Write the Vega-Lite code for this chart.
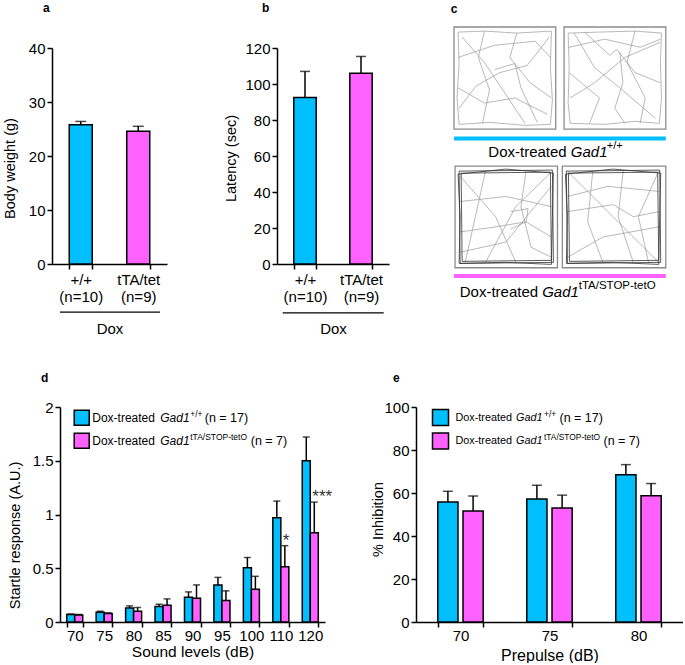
{
  "$schema": "https://vega.github.io/schema/vega-lite/v6.json",
  "background": "white",
  "padding": {"left": 2, "top": 2, "right": 0, "bottom": 0},
  "config": {
    "view": {"stroke": null},
    "font": "Liberation Sans",
    "text": {"font": "Liberation Sans", "color": "black"},
    "axis": {"grid": false, "domainColor": "black", "domainWidth": 1.5, "tickColor": "black", "tickWidth": 1.5, "tickSize": 5, "labelColor": "black", "labelFont": "Liberation Sans", "labelFontSize": 15, "labelPadding": 2, "labelOverlap": false, "titleFont": "Liberation Sans", "titleFontSize": 14.5, "titleFontWeight": "normal", "titleColor": "black"},
    "title": {"fontSize": 12, "fontWeight": "bold", "anchor": "start", "frame": "group", "font": "Liberation Sans", "color": "black"}
  },
  "datasets": {
    "weight": [
      {"g": "+/+|(n=10)", "grp": "wt", "mean": 25.8, "err": 26.4},
      {"g": "tTA/tet|(n=9)", "grp": "mut", "mean": 24.6, "err": 25.5}
    ],
    "latency": [
      {"g": "+/+|(n=10)", "grp": "wt", "mean": 92.5, "err": 107},
      {"g": "tTA/tet|(n=9)", "grp": "mut", "mean": 106, "err": 115.3}
    ],
    "startle": [
      {"sound": "70", "grp": "wt", "mean": 0.07, "err": 0.075, "sig": ""},
      {"sound": "70", "grp": "mut", "mean": 0.065, "err": 0.07, "sig": ""},
      {"sound": "75", "grp": "wt", "mean": 0.09, "err": 0.1, "sig": ""},
      {"sound": "75", "grp": "mut", "mean": 0.08, "err": 0.085, "sig": ""},
      {"sound": "80", "grp": "wt", "mean": 0.13, "err": 0.15, "sig": ""},
      {"sound": "80", "grp": "mut", "mean": 0.1, "err": 0.135, "sig": ""},
      {"sound": "85", "grp": "wt", "mean": 0.145, "err": 0.165, "sig": ""},
      {"sound": "85", "grp": "mut", "mean": 0.155, "err": 0.215, "sig": ""},
      {"sound": "90", "grp": "wt", "mean": 0.23, "err": 0.28, "sig": ""},
      {"sound": "90", "grp": "mut", "mean": 0.22, "err": 0.345, "sig": ""},
      {"sound": "95", "grp": "wt", "mean": 0.345, "err": 0.415, "sig": ""},
      {"sound": "95", "grp": "mut", "mean": 0.2, "err": 0.29, "sig": ""},
      {"sound": "100", "grp": "wt", "mean": 0.505, "err": 0.6, "sig": ""},
      {"sound": "100", "grp": "mut", "mean": 0.305, "err": 0.425, "sig": ""},
      {"sound": "110", "grp": "wt", "mean": 0.97, "err": 1.125, "sig": ""},
      {"sound": "110", "grp": "mut", "mean": 0.515, "err": 0.71, "sig": "*"},
      {"sound": "120", "grp": "wt", "mean": 1.5, "err": 1.72, "sig": ""},
      {"sound": "120", "grp": "mut", "mean": 0.83, "err": 1.115, "sig": "***"}
    ],
    "ppi": [
      {"pre": "70", "grp": "wt", "mean": 55.8, "err": 60.8},
      {"pre": "70", "grp": "mut", "mean": 51.6, "err": 58.6},
      {"pre": "75", "grp": "wt", "mean": 57.2, "err": 63.6},
      {"pre": "75", "grp": "mut", "mean": 53, "err": 59},
      {"pre": "80", "grp": "wt", "mean": 68.5, "err": 73.2},
      {"pre": "80", "grp": "mut", "mean": 58.7, "err": 64.4}
    ],
    "boxes": [
      {"box": "TL", "x": 0, "x2": 1.003, "y": 0, "y2": 1.006},
      {"box": "TR", "x": 1.085, "x2": 2.088, "y": 0, "y2": 1.006},
      {"box": "BL", "x": 0.01, "x2": 1.02, "y": 1.371, "y2": 2.374},
      {"box": "BR", "x": 1.068, "x2": 2.088, "y": 1.371, "y2": 2.374}
    ],
    "traj": [
      {"id": "TL1", "o": 1, "x": 0.04, "y": 0.05}, {"id": "TL1", "o": 2, "x": 0.3, "y": 0.04}, {"id": "TL1", "o": 3, "x": 0.62, "y": 0.06}, {"id": "TL1", "o": 4, "x": 0.96, "y": 0.04},
      {"id": "TL2", "o": 1, "x": 0.04, "y": 0.05}, {"id": "TL2", "o": 2, "x": 0.05, "y": 0.35}, {"id": "TL2", "o": 3, "x": 0.03, "y": 0.7}, {"id": "TL2", "o": 4, "x": 0.05, "y": 0.96},
      {"id": "TL3", "o": 1, "x": 0.96, "y": 0.04}, {"id": "TL3", "o": 2, "x": 0.95, "y": 0.4}, {"id": "TL3", "o": 3, "x": 0.97, "y": 0.72}, {"id": "TL3", "o": 4, "x": 0.95, "y": 0.96},
      {"id": "TL4", "o": 1, "x": 0.05, "y": 0.96}, {"id": "TL4", "o": 2, "x": 0.35, "y": 0.94}, {"id": "TL4", "o": 3, "x": 0.7, "y": 0.97}, {"id": "TL4", "o": 4, "x": 0.95, "y": 0.96},
      {"id": "TL5", "o": 1, "x": 0.08, "y": 0.1}, {"id": "TL5", "o": 2, "x": 0.3, "y": 0.35}, {"id": "TL5", "o": 3, "x": 0.48, "y": 0.62}, {"id": "TL5", "o": 4, "x": 0.7, "y": 0.95},
      {"id": "TL6", "o": 1, "x": 0.94, "y": 0.1}, {"id": "TL6", "o": 2, "x": 0.72, "y": 0.38}, {"id": "TL6", "o": 3, "x": 0.45, "y": 0.45}, {"id": "TL6", "o": 4, "x": 0.22, "y": 0.58}, {"id": "TL6", "o": 5, "x": 0.05, "y": 0.8},
      {"id": "TL7", "o": 1, "x": 0.3, "y": 0.04}, {"id": "TL7", "o": 2, "x": 0.24, "y": 0.3}, {"id": "TL7", "o": 3, "x": 0.35, "y": 0.62}, {"id": "TL7", "o": 4, "x": 0.28, "y": 0.95},
      {"id": "TL8", "o": 1, "x": 0.62, "y": 0.06}, {"id": "TL8", "o": 2, "x": 0.55, "y": 0.3}, {"id": "TL8", "o": 3, "x": 0.75, "y": 0.55}, {"id": "TL8", "o": 4, "x": 0.96, "y": 0.7},
      {"id": "TL9", "o": 1, "x": 0.04, "y": 0.3}, {"id": "TL9", "o": 2, "x": 0.4, "y": 0.18}, {"id": "TL9", "o": 3, "x": 0.8, "y": 0.14}, {"id": "TL9", "o": 4, "x": 0.95, "y": 0.3},
      {"id": "TL10", "o": 1, "x": 0.04, "y": 0.6}, {"id": "TL10", "o": 2, "x": 0.3, "y": 0.75}, {"id": "TL10", "o": 3, "x": 0.6, "y": 0.7}, {"id": "TL10", "o": 4, "x": 0.92, "y": 0.86},
      {"id": "TL11", "o": 1, "x": 0.4, "y": 0.42}, {"id": "TL11", "o": 2, "x": 0.6, "y": 0.36}, {"id": "TL11", "o": 3, "x": 0.66, "y": 0.6}, {"id": "TL11", "o": 4, "x": 0.82, "y": 0.94},
      {"id": "TR1", "o": 1, "x": 1.125, "y": 0.06}, {"id": "TR1", "o": 2, "x": 1.435, "y": 0.05}, {"id": "TR1", "o": 3, "x": 1.785, "y": 0.04}, {"id": "TR1", "o": 4, "x": 2.045, "y": 0.06},
      {"id": "TR2", "o": 1, "x": 1.125, "y": 0.06}, {"id": "TR2", "o": 2, "x": 1.135, "y": 0.4}, {"id": "TR2", "o": 3, "x": 1.125, "y": 0.75}, {"id": "TR2", "o": 4, "x": 1.145, "y": 0.95},
      {"id": "TR3", "o": 1, "x": 2.045, "y": 0.06}, {"id": "TR3", "o": 2, "x": 2.035, "y": 0.35}, {"id": "TR3", "o": 3, "x": 2.045, "y": 0.7}, {"id": "TR3", "o": 4, "x": 2.025, "y": 0.95},
      {"id": "TR4", "o": 1, "x": 1.145, "y": 0.95}, {"id": "TR4", "o": 2, "x": 1.485, "y": 0.96}, {"id": "TR4", "o": 3, "x": 1.785, "y": 0.93}, {"id": "TR4", "o": 4, "x": 2.025, "y": 0.95},
      {"id": "TR5", "o": 1, "x": 1.185, "y": 0.06}, {"id": "TR5", "o": 2, "x": 1.385, "y": 0.4}, {"id": "TR5", "o": 3, "x": 1.635, "y": 0.6}, {"id": "TR5", "o": 4, "x": 1.985, "y": 0.9},
      {"id": "TR6", "o": 1, "x": 1.635, "y": 0.25}, {"id": "TR6", "o": 2, "x": 1.665, "y": 0.55}, {"id": "TR6", "o": 3, "x": 1.585, "y": 0.8}, {"id": "TR6", "o": 4, "x": 1.685, "y": 0.95},
      {"id": "TR7", "o": 1, "x": 2.035, "y": 0.15}, {"id": "TR7", "o": 2, "x": 1.685, "y": 0.3}, {"id": "TR7", "o": 3, "x": 1.385, "y": 0.55}, {"id": "TR7", "o": 4, "x": 1.145, "y": 0.7},
      {"id": "TR8", "o": 1, "x": 1.285, "y": 0.05}, {"id": "TR8", "o": 2, "x": 1.535, "y": 0.28}, {"id": "TR8", "o": 3, "x": 1.605, "y": 0.22}, {"id": "TR8", "o": 4, "x": 1.785, "y": 0.45}, {"id": "TR8", "o": 5, "x": 2.035, "y": 0.55},
      {"id": "TR9", "o": 1, "x": 1.135, "y": 0.45}, {"id": "TR9", "o": 2, "x": 1.435, "y": 0.7}, {"id": "TR9", "o": 3, "x": 1.335, "y": 0.95},
      {"id": "TR10", "o": 1, "x": 1.785, "y": 0.04}, {"id": "TR10", "o": 2, "x": 1.705, "y": 0.35}, {"id": "TR10", "o": 3, "x": 1.885, "y": 0.7}, {"id": "TR10", "o": 4, "x": 1.835, "y": 0.95},
      {"id": "TR11", "o": 1, "x": 1.135, "y": 0.2}, {"id": "TR11", "o": 2, "x": 1.485, "y": 0.12}, {"id": "TR11", "o": 3, "x": 1.835, "y": 0.2}, {"id": "TR11", "o": 4, "x": 2.035, "y": 0.12},
      {"id": "BL1", "o": 1, "x": 0.06, "y": 1.471}, {"id": "BL1", "o": 2, "x": 0.41, "y": 1.871}, {"id": "BL1", "o": 3, "x": 0.61, "y": 2.321},
      {"id": "BL2", "o": 1, "x": 0.96, "y": 1.431}, {"id": "BL2", "o": 2, "x": 0.61, "y": 1.771}, {"id": "BL2", "o": 3, "x": 0.31, "y": 2.321},
      {"id": "BL3", "o": 1, "x": 0.06, "y": 1.721}, {"id": "BL3", "o": 2, "x": 0.51, "y": 1.671}, {"id": "BL3", "o": 3, "x": 0.96, "y": 1.771},
      {"id": "BL4", "o": 1, "x": 0.06, "y": 2.021}, {"id": "BL4", "o": 2, "x": 0.41, "y": 1.971}, {"id": "BL4", "o": 3, "x": 0.71, "y": 1.921}, {"id": "BL4", "o": 4, "x": 0.96, "y": 2.071},
      {"id": "BL5", "o": 1, "x": 0.31, "y": 1.421}, {"id": "BL5", "o": 2, "x": 0.21, "y": 1.871}, {"id": "BL5", "o": 3, "x": 0.11, "y": 2.321},
      {"id": "BL6", "o": 1, "x": 0.71, "y": 1.421}, {"id": "BL6", "o": 2, "x": 0.66, "y": 1.771}, {"id": "BL6", "o": 3, "x": 0.76, "y": 2.171}, {"id": "BL6", "o": 4, "x": 0.96, "y": 2.271},
      {"id": "BL7", "o": 1, "x": 0.06, "y": 2.221}, {"id": "BL7", "o": 2, "x": 0.51, "y": 2.121}, {"id": "BL7", "o": 3, "x": 0.96, "y": 1.571},
      {"id": "BL8", "o": 1, "x": 0.56, "y": 1.821}, {"id": "BL8", "o": 2, "x": 0.73, "y": 1.791}, {"id": "BL8", "o": 3, "x": 0.71, "y": 1.921}, {"id": "BL8", "o": 4, "x": 0.56, "y": 1.991},
      {"id": "BR1", "o": 1, "x": 1.118, "y": 1.421}, {"id": "BR1", "o": 2, "x": 1.568, "y": 1.871}, {"id": "BR1", "o": 3, "x": 2.018, "y": 2.321},
      {"id": "BR2", "o": 1, "x": 1.368, "y": 1.421}, {"id": "BR2", "o": 2, "x": 1.318, "y": 1.921}, {"id": "BR2", "o": 3, "x": 1.468, "y": 2.321},
      {"id": "BR3", "o": 1, "x": 1.118, "y": 1.671}, {"id": "BR3", "o": 2, "x": 1.518, "y": 1.571}, {"id": "BR3", "o": 3, "x": 2.018, "y": 1.621},
      {"id": "BR4", "o": 1, "x": 1.118, "y": 1.821}, {"id": "BR4", "o": 2, "x": 1.568, "y": 1.751}, {"id": "BR4", "o": 3, "x": 1.768, "y": 1.871}, {"id": "BR4", "o": 4, "x": 2.018, "y": 1.821},
      {"id": "BR5", "o": 1, "x": 1.668, "y": 1.421}, {"id": "BR5", "o": 2, "x": 1.618, "y": 1.871}, {"id": "BR5", "o": 3, "x": 1.768, "y": 2.321},
      {"id": "BR6", "o": 1, "x": 1.118, "y": 2.271}, {"id": "BR6", "o": 2, "x": 1.468, "y": 2.071}, {"id": "BR6", "o": 3, "x": 2.018, "y": 1.971},
      {"id": "BR7", "o": 1, "x": 2.018, "y": 1.421}, {"id": "BR7", "o": 2, "x": 1.818, "y": 1.871}, {"id": "BR7", "o": 3, "x": 1.918, "y": 2.321}
    ],
    "loops": [
      {"id": "BLL1", "o": 1, "x": 0.05, "y": 1.421}, {"id": "BLL1", "o": 2, "x": 0.97, "y": 1.411}, {"id": "BLL1", "o": 3, "x": 0.98, "y": 2.321}, {"id": "BLL1", "o": 4, "x": 0.06, "y": 2.331}, {"id": "BLL1", "o": 5, "x": 0.05, "y": 1.421},
      {"id": "BLL2", "o": 1, "x": 0.07, "y": 1.441}, {"id": "BLL2", "o": 2, "x": 0.95, "y": 1.431}, {"id": "BLL2", "o": 3, "x": 0.96, "y": 2.301}, {"id": "BLL2", "o": 4, "x": 0.08, "y": 2.311}, {"id": "BLL2", "o": 5, "x": 0.07, "y": 1.441},
      {"id": "BLL3", "o": 1, "x": 0.04, "y": 1.451}, {"id": "BLL3", "o": 2, "x": 0.51, "y": 1.401}, {"id": "BLL3", "o": 3, "x": 0.98, "y": 1.441}, {"id": "BLL3", "o": 4, "x": 0.97, "y": 1.871}, {"id": "BLL3", "o": 5, "x": 0.96, "y": 2.341}, {"id": "BLL3", "o": 6, "x": 0.51, "y": 2.321}, {"id": "BLL3", "o": 7, "x": 0.05, "y": 2.331}, {"id": "BLL3", "o": 8, "x": 0.06, "y": 1.871}, {"id": "BLL3", "o": 9, "x": 0.04, "y": 1.451},
      {"id": "BRL1", "o": 1, "x": 1.108, "y": 1.421}, {"id": "BRL1", "o": 2, "x": 2.028, "y": 1.411}, {"id": "BRL1", "o": 3, "x": 2.038, "y": 2.321}, {"id": "BRL1", "o": 4, "x": 1.118, "y": 2.331}, {"id": "BRL1", "o": 5, "x": 1.108, "y": 1.421},
      {"id": "BRL2", "o": 1, "x": 1.128, "y": 1.441}, {"id": "BRL2", "o": 2, "x": 2.008, "y": 1.431}, {"id": "BRL2", "o": 3, "x": 2.018, "y": 2.301}, {"id": "BRL2", "o": 4, "x": 1.138, "y": 2.311}, {"id": "BRL2", "o": 5, "x": 1.128, "y": 1.441},
      {"id": "BRL3", "o": 1, "x": 1.098, "y": 1.451}, {"id": "BRL3", "o": 2, "x": 1.568, "y": 1.401}, {"id": "BRL3", "o": 3, "x": 2.038, "y": 1.441}, {"id": "BRL3", "o": 4, "x": 2.028, "y": 1.871}, {"id": "BRL3", "o": 5, "x": 2.018, "y": 2.341}, {"id": "BRL3", "o": 6, "x": 1.568, "y": 2.321}, {"id": "BRL3", "o": 7, "x": 1.108, "y": 2.331}, {"id": "BRL3", "o": 8, "x": 1.118, "y": 1.871}, {"id": "BRL3", "o": 9, "x": 1.098, "y": 1.451}
    ]
  },
  "columns": 1,
  "align": "none",
  "spacing": 36,
  "concat": [
    {
      "spacing": 56,
      "hconcat": [
        {
          "width": 115, "height": 216,
          "title": {"text": "a", "dx": -9, "offset": 26},
          "data": {"name": "weight"},
          "layer": [
            {
              "mark": {"type": "bar", "stroke": "black", "strokeWidth": 1.5},
              "encoding": {
                "x": {"field": "g", "type": "nominal", "sort": null, "scale": {"paddingInner": 0.6, "paddingOuter": 0.3},
                  "axis": {"title": "Dox", "labelExpr": "split(datum.label, '|')", "tickBand": "extent", "labelAngle": 0, "labelLineHeight": 17, "labelPadding": 3, "labelBaseline": "top", "titlePadding": 17, "titleFontSize": 15}},
                "y": {"field": "mean", "type": "quantitative", "scale": {"domain": [0, 40]},
                  "axis": {"values": [0, 10, 20, 30, 40], "labelOverlap": false, "title": "Body weight (g)", "titleX": -38, "titleY": 120, "titleBaseline": "alphabetic"}},
                "color": {"field": "grp", "type": "nominal", "scale": {"domain": ["wt", "mut"], "range": ["#00BFFF", "#FF61FF"]}, "legend": null}
              }
            },
            {
              "mark": {"type": "rule", "color": "black", "strokeWidth": 1.5},
              "encoding": {"x": {"field": "g", "type": "nominal", "sort": null}, "y": {"field": "mean", "type": "quantitative"}, "y2": {"field": "err"}}
            },
            {
              "mark": {"type": "tick", "color": "black", "size": 11, "thickness": 1.5},
              "encoding": {"x": {"field": "g", "type": "nominal", "sort": null}, "y": {"field": "err", "type": "quantitative"}}
            },
            {
              "data": {"values": [{}]},
              "mark": {"type": "rule", "color": "black", "strokeWidth": 1.2, "xOffset": -20.75, "x2Offset": 21.75},
              "encoding": {"x": {"datum": "+/+|(n=10)"}, "x2": {"datum": "tTA/tet|(n=9)"}, "y": {"datum": -8.9}}
            }
          ]
        },
        {
          "width": 112, "height": 216,
          "title": {"text": "b", "dx": -15, "offset": 26},
          "data": {"name": "latency"},
          "layer": [
            {
              "mark": {"type": "bar", "stroke": "black", "strokeWidth": 1.5},
              "encoding": {
                "x": {"field": "g", "type": "nominal", "sort": null, "scale": {"paddingInner": 0.6, "paddingOuter": 0.3},
                  "axis": {"title": "Dox", "labelExpr": "split(datum.label, '|')", "tickBand": "extent", "labelAngle": 0, "labelLineHeight": 17, "labelPadding": 3, "labelBaseline": "top", "titlePadding": 17, "titleFontSize": 15}},
                "y": {"field": "mean", "type": "quantitative", "scale": {"domain": [0, 120]},
                  "axis": {"values": [0, 20, 40, 60, 80, 100, 120], "tickCount": 7, "labelOverlap": false, "title": "Latency (sec)", "titleX": -42, "titleY": 110, "titleBaseline": "alphabetic"}},
                "color": {"field": "grp", "type": "nominal", "scale": {"domain": ["wt", "mut"], "range": ["#00BFFF", "#FF61FF"]}, "legend": null}
              }
            },
            {
              "mark": {"type": "rule", "color": "black", "strokeWidth": 1.5},
              "encoding": {"x": {"field": "g", "type": "nominal", "sort": null}, "y": {"field": "mean", "type": "quantitative"}, "y2": {"field": "err"}}
            },
            {
              "mark": {"type": "tick", "color": "black", "size": 10, "thickness": 1.5},
              "encoding": {"x": {"field": "g", "type": "nominal", "sort": null}, "y": {"field": "err", "type": "quantitative"}}
            },
            {
              "data": {"values": [{}]},
              "mark": {"type": "rule", "color": "black", "strokeWidth": 1.2, "xOffset": -22.3, "x2Offset": 22.7},
              "encoding": {"x": {"datum": "+/+|(n=10)"}, "x2": {"datum": "tTA/tet|(n=9)"}, "y": {"datum": -27.2}}
            }
          ]
        },
        {
          "width": 221, "height": 216,
          "layer": [
            {
              "data": {"name": "boxes"},
              "mark": {"type": "rect", "fill": "white", "stroke": "#8a8a8a", "strokeWidth": 1.3},
              "encoding": {
                "x": {"field": "x", "type": "quantitative", "scale": {"domain": [-0.089, 2.09], "nice": false, "zero": false}, "axis": null},
                "x2": {"field": "x2"},
                "y": {"field": "y", "type": "quantitative", "scale": {"domain": [0.207, 2.337], "reverse": true, "nice": false, "zero": false}, "axis": null},
                "y2": {"field": "y2"}
              }
            },
            {
              "data": {"name": "traj"},
              "mark": {"type": "line", "color": "#9a9a9a", "strokeWidth": 0.7},
              "encoding": {"x": {"field": "x", "type": "quantitative"}, "y": {"field": "y", "type": "quantitative"}, "detail": {"field": "id"}, "order": {"field": "o"}}
            },
            {
              "data": {"name": "loops"},
              "mark": {"type": "line", "color": "#333333", "strokeWidth": 1, "opacity": 0.8},
              "encoding": {"x": {"field": "x", "type": "quantitative"}, "y": {"field": "y", "type": "quantitative"}, "detail": {"field": "id"}, "order": {"field": "o"}}
            },
            {
              "data": {"values": [{}]},
              "mark": {"type": "rule", "color": "#00BFFF", "strokeWidth": 4},
              "encoding": {"x": {"datum": 0}, "x2": {"datum": 2.088}, "y": {"datum": 1.1}}
            },
            {
              "data": {"values": [{}]},
              "mark": {"type": "rule", "color": "#FF61FF", "strokeWidth": 4},
              "encoding": {"x": {"datum": 0}, "x2": {"datum": 2.088}, "y": {"datum": 2.455}}
            },
            {"data": {"values": [{}]}, "mark": {"type": "text", "text": "c", "align": "center", "baseline": "middle", "fontSize": 12, "fontWeight": "bold"}, "encoding": {"x": {"datum": 0}, "y": {"datum": -0.18}}},
            {"data": {"values": [{}]}, "mark": {"type": "text", "text": "Dox-treated", "align": "left", "baseline": "middle", "fontSize": 15}, "encoding": {"x": {"datum": 0.338}, "y": {"datum": 1.23}}},
            {"data": {"values": [{}]}, "mark": {"type": "text", "text": "Gad1", "align": "left", "baseline": "middle", "fontSize": 15, "fontStyle": "italic", "dx": 82.5}, "encoding": {"x": {"datum": 0.338}, "y": {"datum": 1.23}}},
            {"data": {"values": [{}]}, "mark": {"type": "text", "text": "+/+", "align": "left", "baseline": "middle", "fontSize": 11, "dx": 118.5, "dy": -6}, "encoding": {"x": {"datum": 0.338}, "y": {"datum": 1.23}}},
            {"data": {"values": [{}]}, "mark": {"type": "text", "text": "Dox-treated", "align": "left", "baseline": "middle", "fontSize": 15}, "encoding": {"x": {"datum": 0.056}, "y": {"datum": 2.61}}},
            {"data": {"values": [{}]}, "mark": {"type": "text", "text": "Gad1", "align": "left", "baseline": "middle", "fontSize": 15, "fontStyle": "italic", "dx": 82.5}, "encoding": {"x": {"datum": 0.056}, "y": {"datum": 2.61}}},
            {"data": {"values": [{}]}, "mark": {"type": "text", "text": "tTA/STOP-tetO", "align": "left", "baseline": "middle", "fontSize": 11.5, "dx": 119, "dy": -6}, "encoding": {"x": {"datum": 0.056}, "y": {"datum": 2.61}}}
          ]
        }
      ]
    },
    {
      "spacing": 37,
      "resolve": {"scale": {"xOffset": "independent"}},
      "hconcat": [
        {
          "width": 273, "height": 215,
          "title": {"text": "d", "dx": -11, "offset": 15},
          "data": {"name": "startle"},
          "layer": [
            {
              "mark": {"type": "bar", "stroke": "black", "strokeWidth": 1.5},
              "encoding": {
                "x": {"field": "sound", "type": "nominal", "sort": null, "scale": {"range": [8, 273], "paddingInner": 0.456, "paddingOuter": 0.228},
                  "axis": {"title": "Sound levels (dB)", "tickBand": "extent", "labelAngle": 0, "labelPadding": 1, "titlePadding": 1, "titleFontSize": 15.5}},
                "xOffset": {"field": "grp", "type": "nominal", "sort": null, "scale": {"domain": ["wt", "mut"], "paddingInner": 0, "paddingOuter": 0}},
                "y": {"field": "mean", "type": "quantitative", "scale": {"domain": [0, 2]},
                  "axis": {"values": [0, 0.5, 1, 1.5, 2], "format": "~g", "labelOverlap": false, "offset": -8, "title": "Startle response (A.U.)", "titleX": -41, "titleY": 128, "titleBaseline": "alphabetic"}},
                "color": {"field": "grp", "type": "nominal", "scale": {"domain": ["wt", "mut"], "range": ["#00BFFF", "#FF61FF"]}, "legend": null}
              }
            },
            {
              "mark": {"type": "rule", "color": "black", "strokeWidth": 1.5},
              "encoding": {"x": {"field": "sound", "type": "nominal", "sort": null}, "xOffset": {"field": "grp", "type": "nominal", "sort": null}, "y": {"field": "mean", "type": "quantitative"}, "y2": {"field": "err"}}
            },
            {
              "mark": {"type": "tick", "color": "black", "size": 7, "thickness": 1.5},
              "encoding": {"x": {"field": "sound", "type": "nominal", "sort": null}, "xOffset": {"field": "grp", "type": "nominal", "sort": null}, "y": {"field": "err", "type": "quantitative"}}
            },
            {
              "transform": [{"filter": "datum.sig != ''"}],
              "mark": {"type": "text", "align": "left", "baseline": "alphabetic", "fontSize": 17, "dx": -2, "dy": 0, "color": "#333333"},
              "encoding": {"x": {"field": "sound", "type": "nominal", "sort": null}, "xOffset": {"field": "grp", "type": "nominal", "sort": null}, "y": {"field": "err", "type": "quantitative"}, "text": {"field": "sig"}}
            },
            {"data": {"values": [{}]}, "mark": {"type": "square", "filled": true, "size": 225, "fill": "#00BFFF", "opacity": 1, "stroke": "black", "strokeWidth": 1.5, "xOffset": 7}, "encoding": {"x": {"datum": "70"}, "y": {"datum": 1.9}}},
            {"data": {"values": [{}]}, "mark": {"type": "square", "filled": true, "size": 225, "fill": "#FF61FF", "opacity": 1, "stroke": "black", "strokeWidth": 1.5, "xOffset": 7}, "encoding": {"x": {"datum": "70"}, "y": {"datum": 1.685}}},
            {"data": {"values": [{}]}, "mark": {"type": "text", "text": "Dox-treated", "align": "left", "baseline": "middle", "fontSize": 12, "dx": 17.5}, "encoding": {"x": {"datum": "70"}, "y": {"datum": 1.9}}},
            {"data": {"values": [{}]}, "mark": {"type": "text", "text": "Gad1", "align": "left", "baseline": "middle", "fontSize": 12, "fontStyle": "italic", "dx": 85.5}, "encoding": {"x": {"datum": "70"}, "y": {"datum": 1.9}}},
            {"data": {"values": [{}]}, "mark": {"type": "text", "text": "+/+", "align": "left", "baseline": "middle", "fontSize": 8.5, "dx": 115.5, "dy": -4}, "encoding": {"x": {"datum": "70"}, "y": {"datum": 1.9}}},
            {"data": {"values": [{}]}, "mark": {"type": "text", "text": "(n = 17)", "align": "left", "baseline": "middle", "fontSize": 12.5, "dx": 130}, "encoding": {"x": {"datum": "70"}, "y": {"datum": 1.9}}},
            {"data": {"values": [{}]}, "mark": {"type": "text", "text": "Dox-treated", "align": "left", "baseline": "middle", "fontSize": 12, "dx": 17.5}, "encoding": {"x": {"datum": "70"}, "y": {"datum": 1.68}}},
            {"data": {"values": [{}]}, "mark": {"type": "text", "text": "Gad1", "align": "left", "baseline": "middle", "fontSize": 12, "fontStyle": "italic", "dx": 85.5}, "encoding": {"x": {"datum": "70"}, "y": {"datum": 1.68}}},
            {"data": {"values": [{}]}, "mark": {"type": "text", "text": "tTA/STOP-tetO", "align": "left", "baseline": "middle", "fontSize": 8.5, "dx": 115.5, "dy": -4}, "encoding": {"x": {"datum": "70"}, "y": {"datum": 1.68}}},
            {"data": {"values": [{}]}, "mark": {"type": "text", "text": "(n = 7)", "align": "left", "baseline": "middle", "fontSize": 12.5, "dx": 176}, "encoding": {"x": {"datum": "70"}, "y": {"datum": 1.68}}}
          ]
        },
        {
          "width": 267, "height": 215,
          "title": {"text": "e", "dx": -23, "offset": 15},
          "data": {"name": "ppi"},
          "layer": [
            {
              "mark": {"type": "bar", "stroke": "black", "strokeWidth": 1.5},
              "encoding": {
                "x": {"field": "pre", "type": "nominal", "sort": null, "scale": {"paddingInner": 0.49, "paddingOuter": 0.245},
                  "axis": {"title": "Prepulse (dB)", "tickBand": "extent", "labelAngle": 0, "labelPadding": 1, "titlePadding": 4, "titleFontSize": 16}},
                "xOffset": {"field": "grp", "type": "nominal", "sort": null, "scale": {"domain": ["wt", "mut"], "paddingInner": 0.2, "paddingOuter": 0}},
                "y": {"field": "mean", "type": "quantitative", "scale": {"domain": [0, 100]},
                  "axis": {"values": [0, 20, 40, 60, 80, 100], "labelOverlap": false, "title": "% Inhibition", "titleX": -34, "titleY": 112, "titleBaseline": "alphabetic"}},
                "color": {"field": "grp", "type": "nominal", "scale": {"domain": ["wt", "mut"], "range": ["#00BFFF", "#FF61FF"]}, "legend": null}
              }
            },
            {
              "mark": {"type": "rule", "color": "black", "strokeWidth": 1.5},
              "encoding": {"x": {"field": "pre", "type": "nominal", "sort": null}, "xOffset": {"field": "grp", "type": "nominal", "sort": null}, "y": {"field": "mean", "type": "quantitative"}, "y2": {"field": "err"}}
            },
            {
              "mark": {"type": "tick", "color": "black", "size": 10, "thickness": 1.5},
              "encoding": {"x": {"field": "pre", "type": "nominal", "sort": null}, "xOffset": {"field": "grp", "type": "nominal", "sort": null}, "y": {"field": "err", "type": "quantitative"}}
            },
            {"data": {"values": [{}]}, "mark": {"type": "square", "filled": true, "size": 256, "fill": "#00BFFF", "opacity": 1, "stroke": "black", "strokeWidth": 1.5, "xOffset": -20}, "encoding": {"x": {"datum": "70"}, "y": {"datum": 95.1}}},
            {"data": {"values": [{}]}, "mark": {"type": "square", "filled": true, "size": 256, "fill": "#FF61FF", "opacity": 1, "stroke": "black", "strokeWidth": 1.5, "xOffset": -20}, "encoding": {"x": {"datum": "70"}, "y": {"datum": 84.2}}},
            {"data": {"values": [{}]}, "mark": {"type": "text", "text": "Dox-treated", "align": "left", "baseline": "middle", "fontSize": 10.8, "dx": -5}, "encoding": {"x": {"datum": "70"}, "y": {"datum": 95.1}}},
            {"data": {"values": [{}]}, "mark": {"type": "text", "text": "Gad1", "align": "left", "baseline": "middle", "fontSize": 10.8, "fontStyle": "italic", "dx": 55.5}, "encoding": {"x": {"datum": "70"}, "y": {"datum": 95.1}}},
            {"data": {"values": [{}]}, "mark": {"type": "text", "text": "+/+", "align": "left", "baseline": "middle", "fontSize": 8.5, "dx": 83.5, "dy": -4}, "encoding": {"x": {"datum": "70"}, "y": {"datum": 95.1}}},
            {"data": {"values": [{}]}, "mark": {"type": "text", "text": "(n = 17)", "align": "left", "baseline": "middle", "fontSize": 12.5, "dx": 99}, "encoding": {"x": {"datum": "70"}, "y": {"datum": 95.1}}},
            {"data": {"values": [{}]}, "mark": {"type": "text", "text": "Dox-treated", "align": "left", "baseline": "middle", "fontSize": 10.8, "dx": -5}, "encoding": {"x": {"datum": "70"}, "y": {"datum": 84.2}}},
            {"data": {"values": [{}]}, "mark": {"type": "text", "text": "Gad1", "align": "left", "baseline": "middle", "fontSize": 10.8, "fontStyle": "italic", "dx": 55.5}, "encoding": {"x": {"datum": "70"}, "y": {"datum": 84.2}}},
            {"data": {"values": [{}]}, "mark": {"type": "text", "text": "tTA/STOP-tetO", "align": "left", "baseline": "middle", "fontSize": 8.4, "dx": 83.5, "dy": -4}, "encoding": {"x": {"datum": "70"}, "y": {"datum": 84.2}}},
            {"data": {"values": [{}]}, "mark": {"type": "text", "text": "(n = 7)", "align": "left", "baseline": "middle", "fontSize": 12.5, "dx": 143}, "encoding": {"x": {"datum": "70"}, "y": {"datum": 84.2}}}
          ]
        }
      ]
    }
  ]
}
